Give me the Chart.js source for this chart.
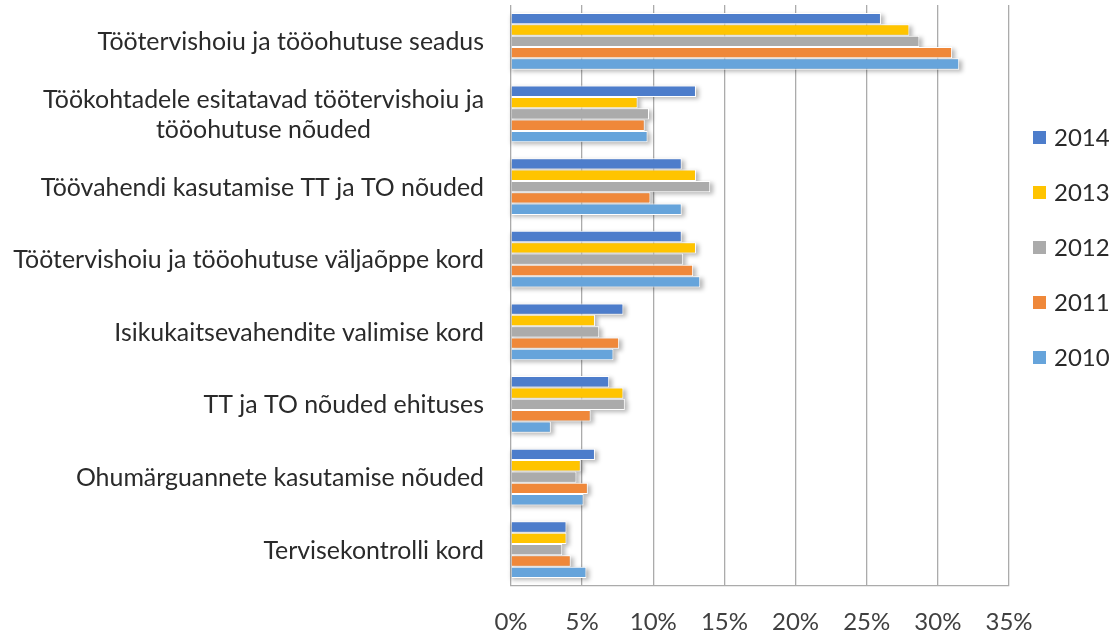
<!DOCTYPE html>
<html>
<head>
<meta charset="utf-8">
<title>Õigusaktide tundmine</title>
<script src="https://cdn.jsdelivr.net/npm/chart.js@4.4.1/dist/chart.umd.min.js"></script>
<style>
    html, body { margin: 0; padding: 0; background: #ffffff; }
    #wrap { width: 1110px; height: 632px; }
</style>
</head>
<body>
<div id="wrap"><canvas id="chart" width="1110" height="632"></canvas></div>
<script>
// Categories (top to bottom) and values per year, in percent
const categories = [
    ['Töötervishoiu ja tööohutuse seadus'],
    ['Töökohtadele esitatavad töötervishoiu ja', 'tööohutuse nõuded'],
    ['Töövahendi kasutamise TT ja TO nõuded'],
    ['Töötervishoiu ja tööohutuse väljaõppe kord'],
    ['Isikukaitsevahendite valimise kord'],
    ['TT ja TO nõuded ehituses'],
    ['Ohumärguannete kasutamise nõuded'],
    ['Tervisekontrolli kord']
];
const years = ['2014', '2013', '2012', '2011', '2010'];
const values2014 = [26.0, 13.0, 12.0, 12.0, 7.9, 6.9, 5.9, 3.9];
const values2013 = [28.0, 8.9, 13.0, 13.0, 5.9, 7.9, 4.9, 3.9];
const values2012 = [28.7, 9.7, 14.0, 12.1, 6.2, 8.0, 4.6, 3.6];
const values2011 = [31.0, 9.4, 9.8, 12.8, 7.6, 5.6, 5.4, 4.2];
const values2010 = [31.5, 9.6, 12.0, 13.3, 7.2, 2.8, 5.1, 5.3];
const xTicks = [0, 5, 10, 15, 20, 25, 30, 35];

const colors = {
    y2014: '#4d7dcb',
    y2013: '#ffc400',
    y2012: '#ababab',
    y2011: '#ef883a',
    y2010: '#66a4db',
    grid: '#ababab',
    text: '#2a2a2a'
};

const FONT = 'Lato, Calibri, Carlito, sans-serif';

// Soft drop shadow under each bar (drawn before the bars themselves)
const barShadow = {
    id: 'barShadow',
    beforeDatasetsDraw(chart) {
        const ctx = chart.ctx;
        ctx.save();
        ctx.filter = 'blur(2px)';
        ctx.fillStyle = 'rgba(0,0,0,0.28)';
        chart.data.datasets.forEach((ds, i) => {
            chart.getDatasetMeta(i).data.forEach(bar => {
                const h = bar.height;
                ctx.fillRect(bar.base, bar.y - h / 2 + 2, bar.x - bar.base + 3, h);
            });
        });
        ctx.restore();
    }
};

// Category labels: right aligned block, lines centred inside it
let labelFontSize = null;
const categoryLabels = {
    id: 'categoryLabels',
    afterDraw(chart) {
        const ctx = chart.ctx;
        const yScale = chart.scales.y;
        const right = chart.chartArea.left - 27;
        ctx.save();
        if (!labelFontSize) {
            ctx.font = '22px ' + FONT;
            const widest = Math.max(...categories.flat().map(s => ctx.measureText(s).width));
            labelFontSize = 22 * 471 / widest;
        }
        ctx.font = labelFontSize.toFixed(2) + 'px ' + FONT;
        ctx.fillStyle = colors.text;
        ctx.textBaseline = 'middle';
        ctx.textAlign = 'center';
        const lineH = 30;
        categories.forEach((lines, i) => {
            const yc = yScale.getPixelForValue(i);
            const w = Math.max(...lines.map(s => ctx.measureText(s).width));
            const cx = right - w / 2;
            lines.forEach((s, k) => {
                ctx.fillText(s, cx, yc + (k - (lines.length - 1) / 2) * lineH + 1);
            });
        });
        ctx.restore();
    }
};

// Legend on the right, as in the original
const sideLegend = {
    id: 'sideLegend',
    afterDraw(chart) {
        const ctx = chart.ctx;
        const x0 = chart.chartArea.right + 24;
        ctx.save();
        ctx.font = '24px ' + FONT;
        ctx.textBaseline = 'middle';
        ctx.textAlign = 'left';
        chart.data.datasets.forEach((ds, i) => {
            const yc = 137 + i * 55;
            ctx.fillStyle = ds.backgroundColor;
            ctx.fillRect(x0, yc - 6, 13, 13);
            ctx.fillStyle = colors.text;
            ctx.fillText(ds.label, x0 + 21, yc + 1);
        });
        ctx.restore();
    }
};

const seriesValues = [values2014, values2013, values2012, values2011, values2010];
const seriesColors = [colors.y2014, colors.y2013, colors.y2012, colors.y2011, colors.y2010];

new Chart(document.getElementById('chart'), {
    type: 'bar',
    data: {
        labels: categories,
        datasets: years.map((yr, i) => ({
            label: yr,
            data: seriesValues[i],
            backgroundColor: seriesColors[i],
            borderColor: '#ffffff',
            borderWidth: 1,
            borderSkipped: 'start',
            categoryPercentage: 0.78,
            barPercentage: 1.0
        }))
    },
    options: {
        indexAxis: 'y',
        responsive: false,
        animation: false,
        devicePixelRatio: 1,
        layout: { padding: { left: 511, right: 101, top: 5, bottom: 0 } },
        plugins: {
            legend: { display: false },
            tooltip: { enabled: false }
        },
        scales: {
            x: {
                min: 0,
                max: 35,
                afterBuildTicks(scale) {
                    scale.ticks = xTicks.map(v => ({ value: v }));
                },
                afterFit(scale) {
                    scale.height = 46;
                },
                ticks: {
                    padding: 24,
                    color: '#404040',
                    font: { family: FONT, size: 24, lineHeight: 1.0 },
                    callback: v => v + '%'
                },
                grid: { color: colors.grid, lineWidth: 1.3, drawTicks: false },
                border: { display: true, color: colors.grid, width: 1.3 }
            },
            y: {
                display: false
            }
        }
    },
    plugins: [barShadow, categoryLabels, sideLegend]
});
</script>
</body>
</html>
